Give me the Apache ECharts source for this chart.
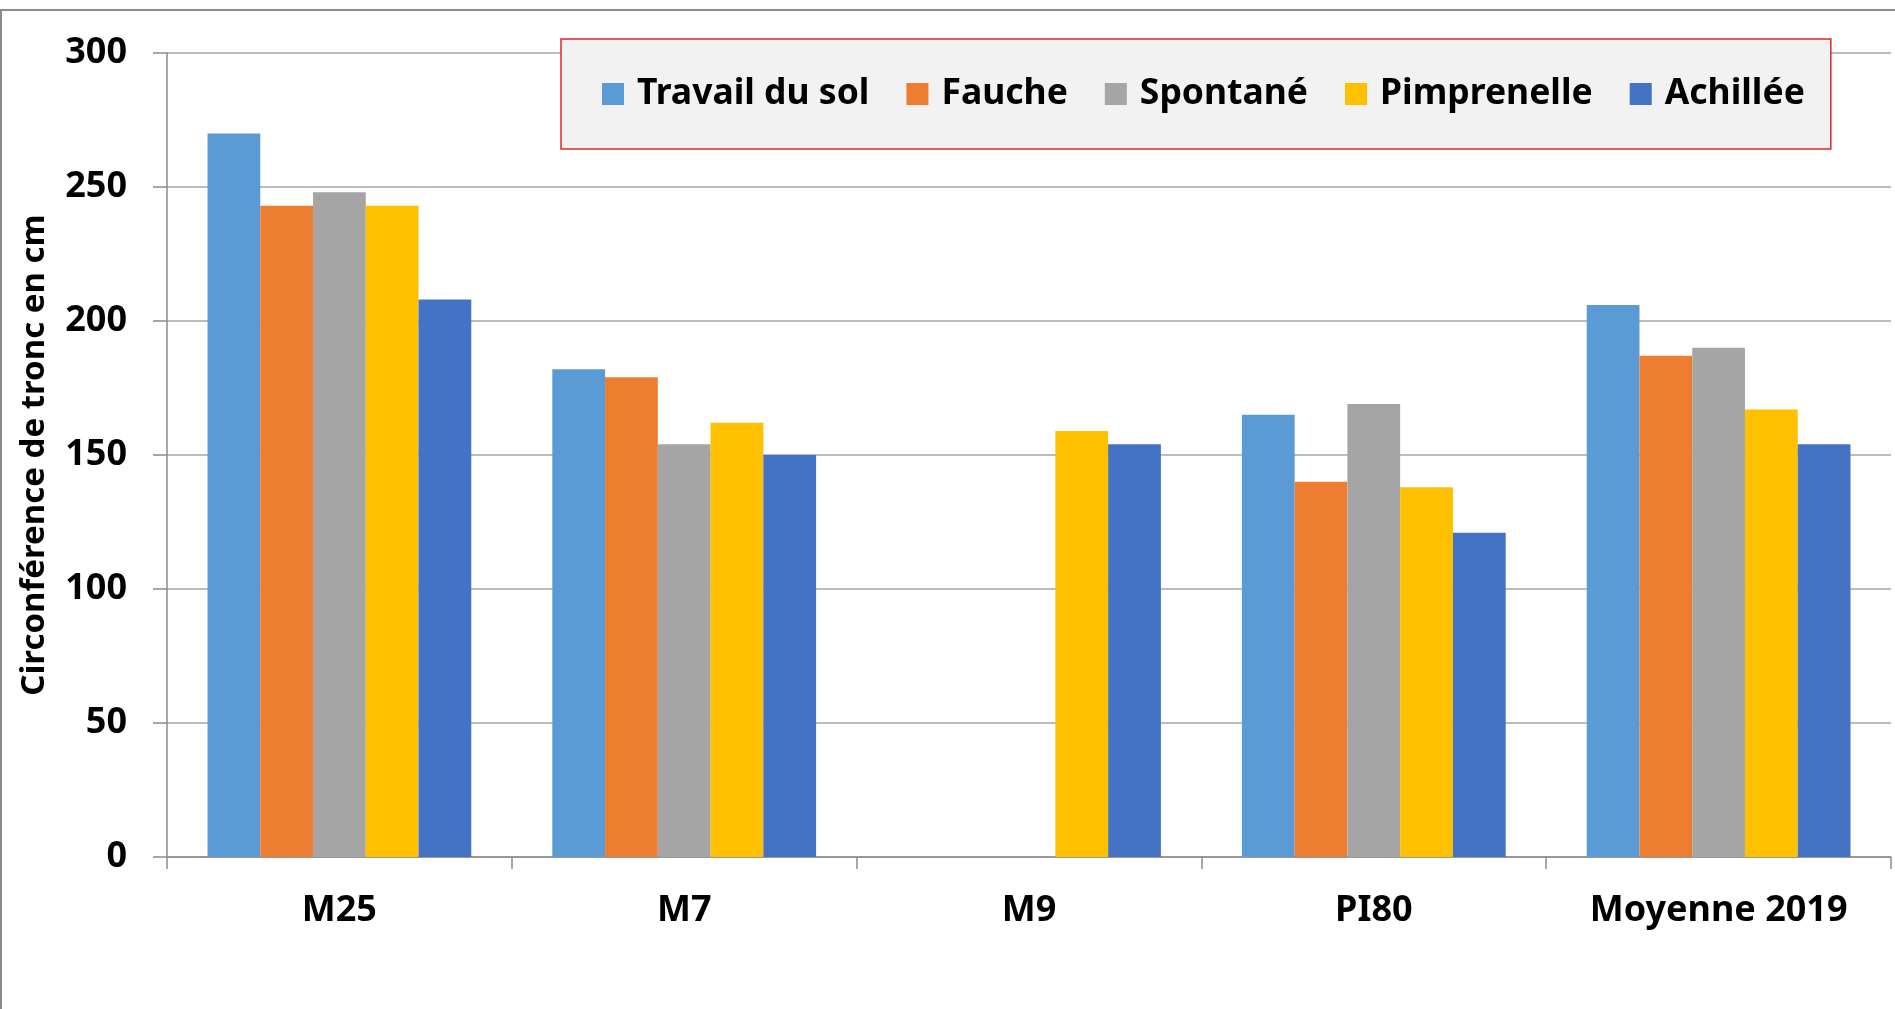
<!DOCTYPE html>
<html>
<head>
<meta charset="utf-8">
<script src="https://cdn.jsdelivr.net/npm/echarts@6/dist/echarts.min.js"></script>
<style>
html,body{margin:0;padding:0;background:#fff;}
#chart{width:1895px;height:1009px;}
</style>
</head>
<body>
<div id="chart"></div>
<script>
// porte-greffes
var categories = ['M25', 'M7', 'M9', 'PI80', 'Moyenne 2019'];
var travailDuSol = [270, 182, null, 165, 206];
var fauche = [243, 179, null, 140, 187];
var spontane = [248, 154, null, 169, 190];
var pimprenelle = [243, 162, 159, 138, 167];
var achillee = [208, 150, 154, 121, 154];
var yTicks = [0, 50, 100, 150, 200, 250, 300];

var FONT = "'Noto Sans', sans-serif";
var colors = ['#5b9bd5', '#ed7d31', '#a5a5a5', '#ffc000', '#4472c4'];

function serie(name, data, i) {
	return {
		name: name,
		type: 'bar',
		data: data,
		barGap: 0,
		barCategoryGap: '23.5%',
		itemStyle: {color: colors[i]}
	};
}

var chart = echarts.init(document.getElementById('chart'));
var option = {
	animation: false,
	color: colors,
	graphic: [{
		type: 'rect',
		shape: {x: 1, y: 10, width: 1910, height: 1020},
		style: {fill: 'none', stroke: '#8c8c8c', lineWidth: 2},
		z: -1
	}],
	grid: {left: 167, right: 4, top: 53, bottom: 152},
	legend: {
		left: 561,
		top: 39,
		padding: [37, 26, 37, 41],
		backgroundColor: '#f2f2f2',
		borderColor: '#e0262b',
		borderWidth: 1.5,
		borderRadius: 0,
		itemWidth: 22,
		itemHeight: 22,
		itemGap: 37,
		icon: 'rect',
		textStyle: {fontFamily: FONT, fontWeight: 'bold', fontSize: 35.5, color: '#000', padding: [0, 0, 0, 8]}
	},
	xAxis: {
		type: 'category',
		data: categories,
		axisLine: {lineStyle: {color: '#8c8c8c', width: 1.5}},
		axisTick: {show: true, length: 12, lineStyle: {color: '#8c8c8c', width: 1.5}},
		axisLabel: {fontFamily: FONT, fontWeight: 'bold', fontSize: 36, color: '#000', margin: 36}
	},
	yAxis: {
		type: 'value',
		min: yTicks[0],
		max: yTicks[yTicks.length - 1],
		interval: 50,
		name: 'Circonférence de tronc en cm',
		nameLocation: 'middle',
		nameGap: 116,
		nameTextStyle: {fontFamily: FONT, fontWeight: 'bold', fontSize: 33, color: '#000'},
		axisLine: {show: true, lineStyle: {color: '#8c8c8c', width: 1.5}},
		axisTick: {show: true, length: 14, lineStyle: {color: '#8c8c8c', width: 1.5}},
		axisLabel: {fontFamily: FONT, fontWeight: 'bold', fontSize: 36, color: '#000', margin: 40},
		splitLine: {lineStyle: {color: '#a6a6a6', width: 1.5}}
	},
	series: [
		serie('Travail du sol', travailDuSol, 0),
		serie('Fauche', fauche, 1),
		serie('Spontané', spontane, 2),
		serie('Pimprenelle', pimprenelle, 3),
		serie('Achillée', achillee, 4)
	]
};
chart.setOption(option);
</script>
</body>
</html>
